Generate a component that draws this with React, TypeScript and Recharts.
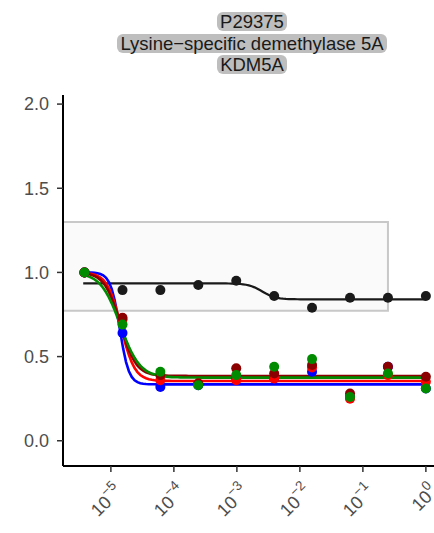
import React from "react";
import {
  ComposedChart,
  Line,
  Scatter,
  XAxis,
  YAxis,
  ReferenceArea,
} from "recharts";

// concentrations (4-fold dilution series)
const conc = [3.81e-6, 1.53e-5, 6.1e-5, 2.44e-4, 9.77e-4, 3.91e-3, 1.56e-2, 6.25e-2, 0.25, 1];

// measured relative responses per series
const blackVals = [1.0, 0.895, 0.895, 0.925, 0.95, 0.86, 0.79, 0.85, 0.85, 0.86];
const blueVals = [1.0, 0.64, 0.32, 0.33, 0.37, 0.37, 0.41, 0.26, 0.44, 0.31];
const redVals = [1.0, 0.72, 0.36, 0.34, 0.36, 0.37, 0.435, 0.25, 0.39, 0.35];
const darkredVals = [1.0, 0.73, 0.39, 0.34, 0.43, 0.4, 0.45, 0.28, 0.44, 0.38];
const greenVals = [1.0, 0.69, 0.41, 0.33, 0.39, 0.44, 0.485, 0.26, 0.4, 0.31];

// fitted curve parameters: [top, bottom, log10 EC50, slope]
const blackFit = [0.935, 0.84, -2.6, 4];
const blueFit = [1.0, 0.335, -4.86, 6];
const redFit = [1.0, 0.355, -4.84, 4];
const darkredFit = [1.0, 0.385, -4.85, 3.5];
const greenFit = [1.0, 0.375, -4.85, 2.8];

const xTicks = [-5, -4, -3, -2, -1, 0];
const yTicks = [0, 0.5, 1, 1.5, 2];
const boxX = [Math.log10(conc[0]) - 1, Math.log10(0.25)];
const boxY = [0.773, 1.3];
const titleLines = ["P29375", "Lysine\u2212specific demethylase 5A", "KDM5A"];

const points = (vals: number[]) =>
  conc.map((c, i) => ({ x: Math.log10(c), y: vals[i] }));

const curve = (p: number[]) => {
  const [top, bottom, ec, s] = p;
  const lo = Math.log10(conc[0]) - 0.02;
  const hi = Math.log10(conc[conc.length - 1]);
  const out = [];
  for (let i = 0; i <= 120; i++) {
    const x = lo + ((hi - lo) * i) / 120;
    out.push({ x, y: bottom + (top - bottom) / (1 + Math.pow(10, s * (x - ec))) });
  }
  return out;
};

const series = [
  { name: "black", color: "#1a1a1a", vals: blackVals, fit: blackFit, w: 2.2 },
  { name: "blue", color: "#0000ff", vals: blueVals, fit: blueFit, w: 2.6 },
  { name: "red", color: "#ff0000", vals: redVals, fit: redFit, w: 2.6 },
  { name: "darkred", color: "#8b0000", vals: darkredVals, fit: darkredFit, w: 2.6 },
  { name: "green", color: "#008b00", vals: greenVals, fit: greenFit, w: 2.6 },
];

const FONT = "'Liberation Sans', Arial, sans-serif";

const XTick = (props: any) => {
  const { x, y, payload } = props;
  const v = payload.value;
  const exp = v === 0 ? "0" : `\u2212${-v}`;
  return (
    <g transform={`translate(${x + 4},${y + 10})`}>
      <text
        transform="rotate(-45)"
        textAnchor="end"
        fill="#4d4d4d"
        fontSize={18}
        fontFamily={FONT}
        dy={12}
      >
        10
        <tspan dy={-9} fontSize={13.5}>
          {exp}
        </tspan>
      </text>
    </g>
  );
};

const Dot = (color: string) => (p: any) =>
  <circle cx={p.cx} cy={p.cy} r={5} fill={color} />;

export default function App() {
  return (
    <div
      style={{
        position: "fixed",
        left: 0,
        top: 0,
        width: 434,
        height: 533,
        overflow: "hidden",
        background: "#fff",
      }}
    >
      <div
        style={{
          position: "absolute",
          left: 0,
          top: 11,
          width: 504,
          textAlign: "center",
          fontFamily: FONT,
          fontSize: 18.5,
          color: "#1a1a1a",
        }}
      >
        {titleLines.map((t) => (
          <div key={t} style={{ height: 21.5 }}>
            <span
              style={{
                display: "inline-block",
                background: "#bebebe",
                borderRadius: 6,
                padding: "0 3px",
                height: 19,
                lineHeight: "19px",
              }}
            >
              {t}
            </span>
          </div>
        ))}
      </div>
      <ComposedChart
        width={450}
        height={533}
        margin={{ top: 95, right: 9, bottom: 0, left: 0 }}
        style={{ position: "absolute", left: 0, top: 0 }}
      >
        <XAxis
          type="number"
          dataKey="x"
          domain={[-5.76, 0.24]}
          ticks={xTicks}
          allowDataOverflow
          axisLine={{ stroke: "#000", strokeWidth: 2 }}
          tickLine={{ stroke: "#333", strokeWidth: 1.5 }}
          tickSize={6}
          tick={<XTick />}
          height={67}
        />
        <YAxis
          type="number"
          dataKey="y"
          domain={[-0.15, 2.054]}
          ticks={yTicks}
          allowDataOverflow
          width={63}
          axisLine={{ stroke: "#000", strokeWidth: 2 }}
          tickLine={{ stroke: "#333", strokeWidth: 1.5 }}
          tickSize={6}
          tickMargin={8}
          tickFormatter={(v: number) => v.toFixed(1)}
          tick={{ fill: "#4d4d4d", fontSize: 18, fontFamily: FONT }}
        />
        <ReferenceArea
          x1={boxX[0]}
          x2={boxX[1]}
          y1={boxY[0]}
          y2={boxY[1]}
          fill="#fafafa"
          fillOpacity={1}
          stroke="#c8c8c8"
          strokeWidth={2}
          ifOverflow="hidden"
        />
        {series.map((s) => (
          <Line
            key={"l" + s.name}
            data={curve(s.fit)}
            dataKey="y"
            type="linear"
            stroke={s.color}
            strokeWidth={s.w}
            dot={false}
            activeDot={false}
            isAnimationActive={false}
          />
        ))}
        {series.map((s) => (
          <Scatter
            key={"p" + s.name}
            data={points(s.vals)}
            dataKey="y"
            fill={s.color}
            shape={Dot(s.color)}
            isAnimationActive={false}
          />
        ))}
      </ComposedChart>
    </div>
  );
}
